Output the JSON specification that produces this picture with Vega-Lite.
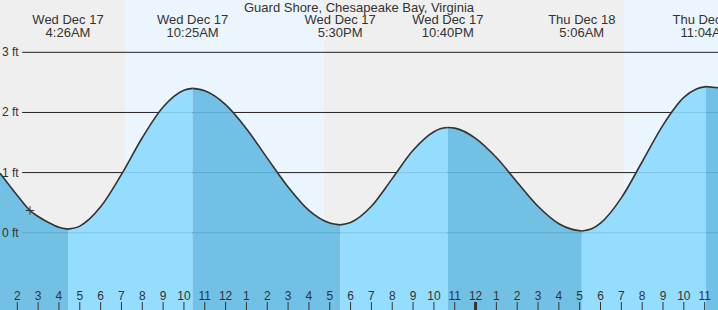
{
  "$schema": "https://vega.github.io/schema/vega-lite/v6.json",
  "width": 718,
  "height": 310,
  "autosize": {"type": "fit", "contains": "padding"},
  "padding": 0,
  "background": "#ffffff",
  "config": {"view": {"stroke": null}, "font": "Liberation Sans"},
  "title": {
    "text": "Guard Shore, Chesapeake Bay, Virginia",
    "fontSize": 13,
    "fontWeight": "normal",
    "color": "#333333",
    "font": "Liberation Sans",
    "anchor": "middle",
    "offset": -15
  },
  "datasets": {
    "bands": [
      {"start": 1.169, "end": 7.17, "period": "night"},
      {"start": 7.17, "end": 16.72, "period": "day"},
      {"start": 16.72, "end": 31.15, "period": "night"},
      {"start": 31.15, "end": 35.64, "period": "day"}
    ],
    "levels": [
      {"ft": 0, "label": "0 ft"},
      {"ft": 1, "label": "1 ft"},
      {"ft": 2, "label": "2 ft"},
      {"ft": 3, "label": "3 ft"}
    ],
    "hours": [
      {"t": 2, "label": "2"}, {"t": 3, "label": "3"}, {"t": 4, "label": "4"}, {"t": 5, "label": "5"},
      {"t": 6, "label": "6"}, {"t": 7, "label": "7"}, {"t": 8, "label": "8"}, {"t": 9, "label": "9"},
      {"t": 10, "label": "10"}, {"t": 11, "label": "11"}, {"t": 12, "label": "12"}, {"t": 13, "label": "1"},
      {"t": 14, "label": "2"}, {"t": 15, "label": "3"}, {"t": 16, "label": "4"}, {"t": 17, "label": "5"},
      {"t": 18, "label": "6"}, {"t": 19, "label": "7"}, {"t": 20, "label": "8"}, {"t": 21, "label": "9"},
      {"t": 22, "label": "10"}, {"t": 23, "label": "11"}, {"t": 24, "label": "12"}, {"t": 25, "label": "1"},
      {"t": 26, "label": "2"}, {"t": 27, "label": "3"}, {"t": 28, "label": "4"}, {"t": 29, "label": "5"},
      {"t": 30, "label": "6"}, {"t": 31, "label": "7"}, {"t": 32, "label": "8"}, {"t": 33, "label": "9"},
      {"t": 34, "label": "10"}, {"t": 35, "label": "11"}
    ],
    "tide": [
      {"t": 1.169, "h": 0.99, "seg": 1, "phase": "falling"},
      {"t": 2.0, "h": 0.62, "seg": 1, "phase": "falling"},
      {"t": 2.61, "h": 0.37, "seg": 1, "phase": "falling"},
      {"t": 3.0, "h": 0.27, "seg": 1, "phase": "falling"},
      {"t": 3.5, "h": 0.17, "seg": 1, "phase": "falling"},
      {"t": 4.0, "h": 0.09, "seg": 1, "phase": "falling"},
      {"t": 4.433, "h": 0.06, "seg": 1, "phase": "falling"},
      {"t": 4.433, "h": 0.06, "seg": 2, "phase": "rising"},
      {"t": 5.0, "h": 0.11, "seg": 2, "phase": "rising"},
      {"t": 6.0, "h": 0.43, "seg": 2, "phase": "rising"},
      {"t": 7.0, "h": 0.97, "seg": 2, "phase": "rising"},
      {"t": 8.0, "h": 1.58, "seg": 2, "phase": "rising"},
      {"t": 9.0, "h": 2.09, "seg": 2, "phase": "rising"},
      {"t": 10.0, "h": 2.37, "seg": 2, "phase": "rising"},
      {"t": 10.417, "h": 2.4, "seg": 2, "phase": "rising"},
      {"t": 10.417, "h": 2.4, "seg": 3, "phase": "falling"},
      {"t": 11.0, "h": 2.36, "seg": 3, "phase": "falling"},
      {"t": 12.0, "h": 2.13, "seg": 3, "phase": "falling"},
      {"t": 13.0, "h": 1.73, "seg": 3, "phase": "falling"},
      {"t": 14.0, "h": 1.24, "seg": 3, "phase": "falling"},
      {"t": 15.0, "h": 0.76, "seg": 3, "phase": "falling"},
      {"t": 16.0, "h": 0.37, "seg": 3, "phase": "falling"},
      {"t": 17.0, "h": 0.16, "seg": 3, "phase": "falling"},
      {"t": 17.5, "h": 0.13, "seg": 3, "phase": "falling"},
      {"t": 17.5, "h": 0.13, "seg": 4, "phase": "rising"},
      {"t": 18.0, "h": 0.17, "seg": 4, "phase": "rising"},
      {"t": 19.0, "h": 0.44, "seg": 4, "phase": "rising"},
      {"t": 20.0, "h": 0.9, "seg": 4, "phase": "rising"},
      {"t": 21.0, "h": 1.37, "seg": 4, "phase": "rising"},
      {"t": 22.0, "h": 1.68, "seg": 4, "phase": "rising"},
      {"t": 22.3, "h": 1.73, "seg": 4, "phase": "rising"},
      {"t": 22.667, "h": 1.75, "seg": 4, "phase": "rising"},
      {"t": 22.667, "h": 1.75, "seg": 5, "phase": "falling"},
      {"t": 23.0, "h": 1.74, "seg": 5, "phase": "falling"},
      {"t": 24.0, "h": 1.57, "seg": 5, "phase": "falling"},
      {"t": 25.0, "h": 1.25, "seg": 5, "phase": "falling"},
      {"t": 26.0, "h": 0.84, "seg": 5, "phase": "falling"},
      {"t": 27.0, "h": 0.44, "seg": 5, "phase": "falling"},
      {"t": 28.0, "h": 0.15, "seg": 5, "phase": "falling"},
      {"t": 28.6, "h": 0.06, "seg": 5, "phase": "falling"},
      {"t": 29.1, "h": 0.03, "seg": 5, "phase": "falling"},
      {"t": 29.1, "h": 0.03, "seg": 6, "phase": "rising"},
      {"t": 29.6, "h": 0.07, "seg": 6, "phase": "rising"},
      {"t": 30.0, "h": 0.16, "seg": 6, "phase": "rising"},
      {"t": 31.0, "h": 0.58, "seg": 6, "phase": "rising"},
      {"t": 32.0, "h": 1.18, "seg": 6, "phase": "rising"},
      {"t": 33.0, "h": 1.79, "seg": 6, "phase": "rising"},
      {"t": 34.0, "h": 2.25, "seg": 6, "phase": "rising"},
      {"t": 34.6, "h": 2.39, "seg": 6, "phase": "rising"},
      {"t": 35.067, "h": 2.43, "seg": 6, "phase": "rising"},
      {"t": 35.067, "h": 2.43, "seg": 7, "phase": "falling"},
      {"t": 35.64, "h": 2.41, "seg": 7, "phase": "falling"}
    ],
    "now": [{"t": 2.61, "h": 0.37}],
    "events": [
      {"t": 4.433, "label": "Wed Dec 17\n4:26AM"},
      {"t": 10.417, "label": "Wed Dec 17\n10:25AM"},
      {"t": 17.5, "label": "Wed Dec 17\n5:30PM"},
      {"t": 22.667, "label": "Wed Dec 17\n10:40PM"},
      {"t": 29.1, "label": "Thu Dec 18\n5:06AM"},
      {"t": 35.067, "label": "Thu Dec 18\n11:04AM"}
    ]
  },
  "layer": [
    {
      "data": {"name": "bands"},
      "mark": {"type": "rect", "clip": true},
      "encoding": {
        "x": {"field": "start", "type": "quantitative", "axis": null, "scale": {"domain": [1.169, 35.64], "nice": false, "zero": false}},
        "x2": {"field": "end"},
        "color": {
          "field": "period",
          "type": "nominal",
          "scale": {"domain": ["night", "day"], "range": ["#efefef", "#ebf5fd"]},
          "legend": null
        }
      }
    },
    {
      "data": {"name": "levels"},
      "mark": {"type": "rule", "color": "#222222", "strokeWidth": 1, "clip": true},
      "encoding": {
        "y": {"field": "ft", "type": "quantitative", "axis": null, "scale": {"domain": [-1.285, 3.87], "nice": false, "zero": false}},
        "x": {"datum": 2.23, "type": "quantitative", "axis": null},
        "x2": {"datum": 35.64}
      }
    },
    {
      "data": {"name": "tide"},
      "mark": {"type": "area", "interpolate": "monotone", "opacity": 0.9, "clip": true},
      "encoding": {
        "x": {"field": "t", "type": "quantitative", "axis": null},
        "y": {"field": "h", "type": "quantitative", "stack": null, "axis": null},
        "y2": {"datum": -1.285},
        "detail": {"field": "seg", "type": "nominal"},
        "color": {
          "field": "phase",
          "type": "nominal",
          "scale": {"domain": ["rising", "falling"], "range": ["#8bdaff", "#64bbe3"]},
          "legend": null
        }
      }
    },
    {
      "data": {"name": "tide"},
      "mark": {"type": "line", "interpolate": "monotone", "color": "#333333", "strokeWidth": 1.6, "clip": true},
      "encoding": {
        "x": {"field": "t", "type": "quantitative", "axis": null},
        "y": {"field": "h", "type": "quantitative", "axis": null},
        "detail": {"field": "seg", "type": "nominal"}
      }
    },
    {
      "data": {"name": "now"},
      "mark": {"type": "point", "shape": "M-1,0L1,0M0,-1L0,1", "size": 72, "filled": false, "stroke": "#333333", "strokeWidth": 1, "opacity": 1, "clip": true},
      "encoding": {
        "x": {"field": "t", "type": "quantitative", "axis": null},
        "y": {"field": "h", "type": "quantitative", "axis": null}
      }
    },
    {
      "data": {"name": "levels"},
      "mark": {"type": "text", "fontSize": 12, "color": "#333333", "font": "Liberation Sans", "align": "left", "baseline": "middle", "clip": true},
      "encoding": {
        "x": {"datum": 1.265, "type": "quantitative", "axis": null},
        "y": {"field": "ft", "type": "quantitative", "axis": null},
        "text": {"field": "label", "type": "nominal"}
      }
    },
    {
      "data": {"name": "hours"},
      "mark": {"type": "rule", "color": "#333333", "clip": true},
      "encoding": {
        "x": {"field": "t", "type": "quantitative", "axis": null},
        "y": {"datum": -1.152, "type": "quantitative", "axis": null},
        "y2": {"datum": -1.285},
        "strokeWidth": {"condition": {"test": "datum.t == 24", "value": 3}, "value": 1}
      }
    },
    {
      "data": {"name": "hours"},
      "mark": {"type": "text", "fontSize": 12, "color": "#333333", "font": "Liberation Sans", "align": "center", "baseline": "alphabetic", "clip": true},
      "encoding": {
        "x": {"field": "t", "type": "quantitative", "axis": null},
        "y": {"datum": -1.118, "type": "quantitative", "axis": null},
        "text": {"field": "label", "type": "nominal"}
      }
    },
    {
      "data": {"name": "events"},
      "mark": {"type": "text", "lineBreak": "\n", "fontSize": 13, "lineHeight": 12.5, "color": "#333333", "font": "Liberation Sans", "align": "center", "baseline": "alphabetic", "clip": true},
      "encoding": {
        "x": {"field": "t", "type": "quantitative", "axis": null},
        "y": {"datum": 3.466, "type": "quantitative", "axis": null},
        "text": {"field": "label", "type": "nominal"}
      }
    }
  ],
  "resolve": {"scale": {"color": "independent"}}
}
